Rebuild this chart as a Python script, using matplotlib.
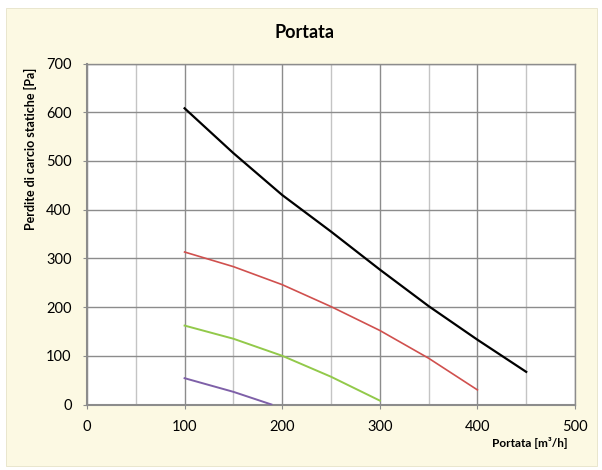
import matplotlib.pyplot as plt
from matplotlib.patches import Rectangle
from matplotlib.ticker import MultipleLocator

plt.rcParams['font.family'] = ['Lato', 'DejaVu Sans']

# portata [m3/h] -> perdite di carico statiche [Pa]
x_black = [100, 150, 200, 250, 300, 350, 400, 450]
y_black = [608, 516, 430, 355, 277, 202, 133, 67]

x_red = [100, 150, 200, 250, 300, 350, 400]
y_red = [313, 283, 246, 201, 152, 95, 30]

x_green = [100, 150, 200, 250, 300]
y_green = [162, 135, 100, 57, 8]

x_purple = [100, 150, 189]
y_purple = [54, 26, 0]

fig = plt.figure(figsize=(6.02, 4.70), dpi=100)
fig.patch.set_facecolor('white')
bg = Rectangle((6 / 602, 1 - 466 / 470), 591 / 602, 458 / 470,
               transform=fig.transFigure, facecolor='#FCF9E3',
               edgecolor='#E6E2C8', linewidth=0.6, zorder=-5)
fig.add_artist(bg)

ax = fig.add_axes([87 / 602, 1 - 404.5 / 470, 488 / 602, 341 / 470])
ax.set_zorder(1)
ax.set_facecolor('white')

ax.plot(x_black, y_black, color='black', lw=1.6, zorder=3)
ax.plot(x_red, y_red, color='#D0504E', lw=1.2, zorder=3)
ax.plot(x_green, y_green, color='#92C94A', lw=1.4, zorder=3)
ax.plot(x_purple, y_purple, color='#7E60A8', lw=1.4, zorder=3)

ax.set_xlim(0, 500)
ax.set_ylim(0, 700)
ax.xaxis.set_major_locator(MultipleLocator(100))
ax.xaxis.set_minor_locator(MultipleLocator(50))
ax.yaxis.set_major_locator(MultipleLocator(100))
ax.grid(which='major', color='#8C8C8C', lw=1.0, zorder=1)
ax.grid(which='minor', axis='x', color='#C4C4C4', lw=1.0, zorder=1)
ax.set_axisbelow(True)

for s in ax.spines.values():
    s.set_color('#8C8C8C')
    s.set_linewidth(1.0)
ax.spines['left'].set_linewidth(1.5)
ax.spines['bottom'].set_linewidth(1.5)

ax.tick_params(axis='both', which='major', labelsize=10.5, length=3,
               color='#8C8C8C', pad=8)
ax.tick_params(axis='x', which='minor', length=0)

fig.text(305 / 602, 1 - 32 / 470, 'Portata', ha='center', va='center',
         fontsize=13, fontweight='bold')
fig.text(568 / 602, 1 - 443 / 470, 'Portata [m³/h]', ha='right',
         va='center', fontsize=8.5, fontweight='bold')
fig.text(30 / 602, 1 - 149 / 470, 'Perdite di carcio statiche [Pa]',
         ha='center', va='center', rotation=90, fontsize=9,
         fontweight='bold')

fig.savefig('out.png', dpi=100)
